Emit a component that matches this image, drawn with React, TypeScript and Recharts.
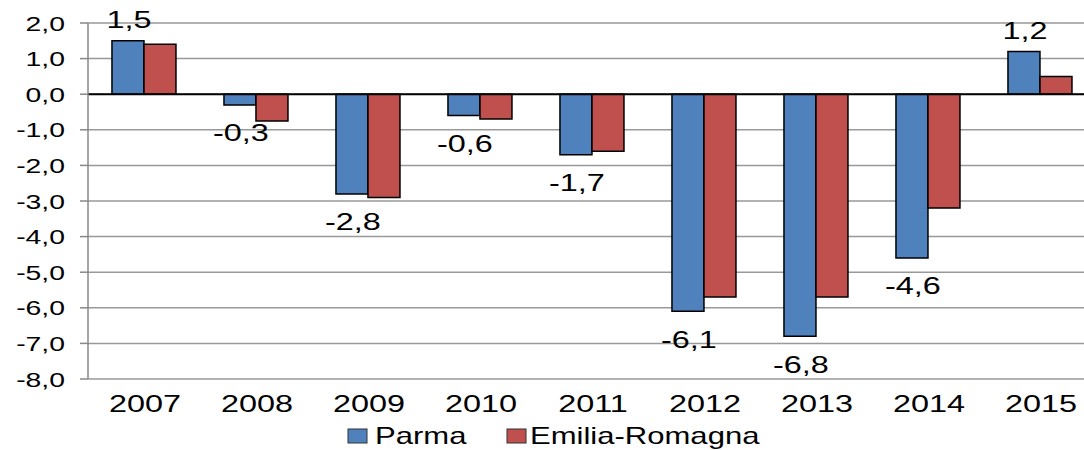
import { BarChart, Bar, XAxis, YAxis, CartesianGrid, Legend, ReferenceLine, LabelList } from 'recharts';

const years = ['2007', '2008', '2009', '2010', '2011', '2012', '2013', '2014', '2015'];
const parma = [1.5, -0.3, -2.8, -0.6, -1.7, -6.1, -6.8, -4.6, 1.2];
const emilia = [1.4, -0.75, -2.9, -0.7, -1.6, -5.7, -5.7, -3.2, 0.5];
const yTicks = [-8, -7, -6, -5, -4, -3, -2, -1, 0, 1, 2];

const data = years.map((y, i) => ({ year: y, parma: parma[i], emilia: emilia[i] }));

const BLUE = '#4F81BD';
const RED = '#C0504D';
const FONT = '"Liberation Sans", Arial, sans-serif';
const STRETCH = 1.35;

const fmt = (v: number) => v.toFixed(1).replace('.', ',');

function YTick({ x, y, payload }: any) {
  return (
    <text
      transform={`translate(${x - 13},${y}) scale(${STRETCH},1)`}
      textAnchor="end"
      dominantBaseline="central"
      fontFamily={FONT}
      fontSize={21}
      fill="#000"
    >
      {fmt(payload.value)}
    </text>
  );
}

function XTick({ x, y, payload }: any) {
  return (
    <text
      transform={`translate(${x + 1},${y + 31}) scale(${STRETCH},1)`}
      textAnchor="middle"
      fontFamily={FONT}
      fontSize={24}
      fill="#000"
    >
      {payload.value}
    </text>
  );
}

function ValueLabel({ x, y, width, height, value }: any) {
  const top = Math.min(y, y + height);
  const bottom = Math.max(y, y + height);
  const cy = value >= 0 ? top - 21 : bottom + 28;
  return (
    <text
      transform={`translate(${x + width / 2 + 1},${cy}) scale(${STRETCH},1)`}
      textAnchor="middle"
      dominantBaseline="central"
      fontFamily={FONT}
      fontSize={24}
      fill="#000"
    >
      {fmt(value)}
    </text>
  );
}

function renderLegend() {
  const items = [
    { name: 'Parma', color: BLUE, x: 348, gap: 27 },
    { name: 'Emilia-Romagna', color: RED, x: 507, gap: 23 },
  ];
  return (
    <svg width={1084} height={30} style={{ display: 'block' }}>
      {items.map((it) => (
        <g key={it.name}>
          <rect x={it.x} y={9} width={19} height={14} fill={it.color} stroke="#333" strokeWidth={1} />
          <text
            transform={`translate(${it.x + it.gap},16) scale(${STRETCH},1)`}
            dominantBaseline="central"
            fontFamily={FONT}
            fontSize={23}
            fill="#000"
          >
            {it.name}
          </text>
        </g>
      ))}
    </svg>
  );
}

export default function App() {
  return (
    <div style={{ position: 'absolute', left: 0, top: 0, width: 1084, height: 450, overflow: 'hidden', background: '#fff' }}>
      <BarChart
        width={1100}
        height={450}
        data={data}
        margin={{ top: 23, right: 4, left: 0, bottom: 0 }}
        barCategoryGap="21.4%"
        barGap={0}
      >
        <CartesianGrid vertical={false} stroke="#999" strokeWidth={1.5} />
        <XAxis
          dataKey="year"
          height={41}
          axisLine={false}
          tickLine={false}
          tickSize={0}
          tick={<XTick />}
          interval={0}
        />
        <YAxis
          width={88}
          domain={[-8, 2]}
          ticks={yTicks}
          interval={0}
          allowDataOverflow
          axisLine={{ stroke: '#888', strokeWidth: 1.5 }}
          tickLine={{ stroke: '#888', strokeWidth: 1.5 }}
          tickSize={8}
          tick={<YTick />}
        />
        <Legend verticalAlign="bottom" height={30} wrapperStyle={{ left: 0, width: 1084 }} content={renderLegend} />
        <Bar dataKey="parma" name="Parma" fill={BLUE} stroke="#000" strokeWidth={1.5} isAnimationActive={false}>
          <LabelList dataKey="parma" content={<ValueLabel />} />
        </Bar>
        <Bar dataKey="emilia" name="Emilia-Romagna" fill={RED} stroke="#000" strokeWidth={1.5} isAnimationActive={false} />
        <ReferenceLine y={0} stroke="#000" strokeWidth={2} />
      </BarChart>
    </div>
  );
}
